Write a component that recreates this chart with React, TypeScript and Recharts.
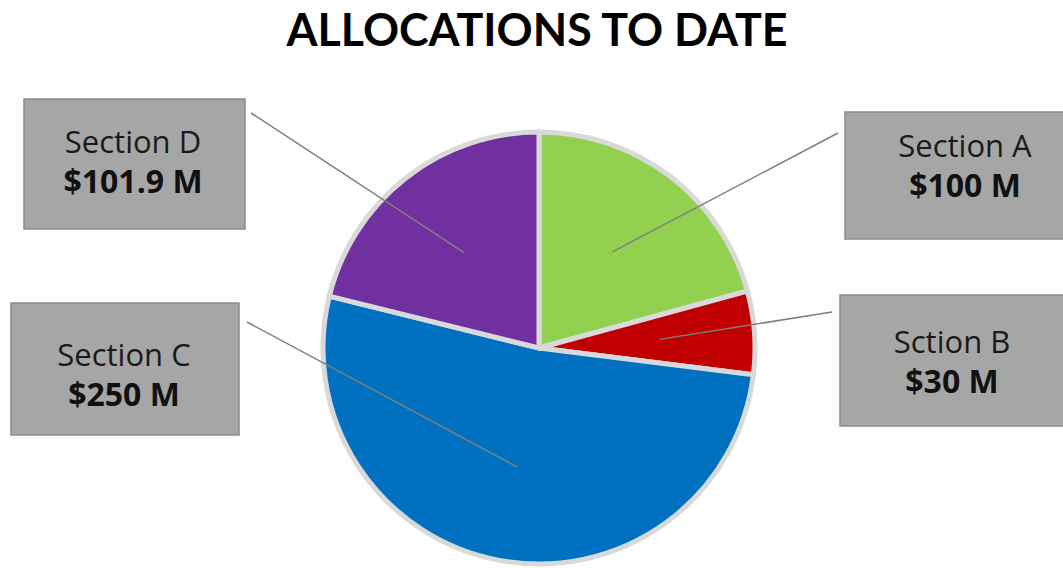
import { PieChart, Pie, Cell } from "recharts";

const sections = ["Section A", "Sction B", "Section C", "Section D"];
const amounts = [100, 30, 250, 101.9];
const amountLabels = ["$100 M", "$30 M", "$250 M", "$101.9 M"];
const colors = ["#92d050", "#c00000", "#0070c0", "#7030a0"];

// callout boxes: rect, text centre x, first baseline, line end
const boxes = [
    { x: 845, y: 112, w: 240, h: 127, tx: 965, ty: 157, lx: 838, ly: 133 },
    { x: 840, y: 295, w: 240, h: 131, tx: 952, ty: 353, lx: 832, ly: 312 },
    { x: 11, y: 303, w: 228, h: 132, tx: 124, ty: 366, lx: 247, ly: 322 },
    { x: 24, y: 99, w: 221, h: 130, tx: 133, ty: 153, lx: 251, ly: 113 },
];

const data = sections.map((name, i) => ({
    name,
    value: amounts[i],
    label: amountLabels[i],
}));

const RAD = Math.PI / 180;

const renderLabel = (props: any) => {
    const { cx, cy, midAngle, outerRadius, index } = props;
    const b = boxes[index];
    const r = outerRadius * 0.56;
    const px = cx + r * Math.cos(-midAngle * RAD);
    const py = cy + r * Math.sin(-midAngle * RAD);
    return (
        <g>
            <line x1={px} y1={py} x2={b.lx} y2={b.ly} stroke="#7f7f7f" strokeWidth={1.5} />
            <rect x={b.x} y={b.y} width={b.w} height={b.h} fill="#a6a6a6" stroke="#8c8c8c" strokeWidth={1.5} />
            <text x={b.tx} y={b.ty} textAnchor="middle" fontFamily="Open Sans" fontSize={31} fill="#1a1a1a">
                {data[index].name}
            </text>
            <text x={b.tx} y={b.ty + 40} textAnchor="middle" fontFamily="Open Sans" fontWeight={700} fontSize={32} fill="#111">
                {data[index].label}
            </text>
        </g>
    );
};

export default function App() {
    return (
        <div style={{ position: "absolute", left: 0, top: 0, width: 1063, height: 568, background: "#fff" }}>
            <div style={{ position: "absolute", left: 0, top: 0 }}>
                <PieChart width={1063} height={568} margin={{ top: 0, right: 0, bottom: 0, left: 0 }}>
                    <Pie
                        data={data}
                        dataKey="value"
                        nameKey="name"
                        cx={539}
                        cy={348}
                        outerRadius={216}
                        startAngle={90}
                        endAngle={-270}
                        stroke="#d9d9d9"
                        strokeWidth={5}
                        label={renderLabel}
                        labelLine={false}
                        isAnimationActive={false}
                    >
                        {data.map((d, i) => (
                            <Cell key={d.name} fill={colors[i]} />
                        ))}
                    </Pie>
                </PieChart>
            </div>
            <svg width={1063} height={90} style={{ position: "absolute", left: 0, top: 0 }}>
                <text
                    x={537}
                    y={46}
                    textAnchor="middle"
                    fontFamily="Lato"
                    fontWeight={700}
                    fontSize={46}
                    textLength={501}
                    lengthAdjust="spacingAndGlyphs"
                    fill="#000"
                >
                    ALLOCATIONS TO DATE
                </text>
            </svg>
        </div>
    );
}
